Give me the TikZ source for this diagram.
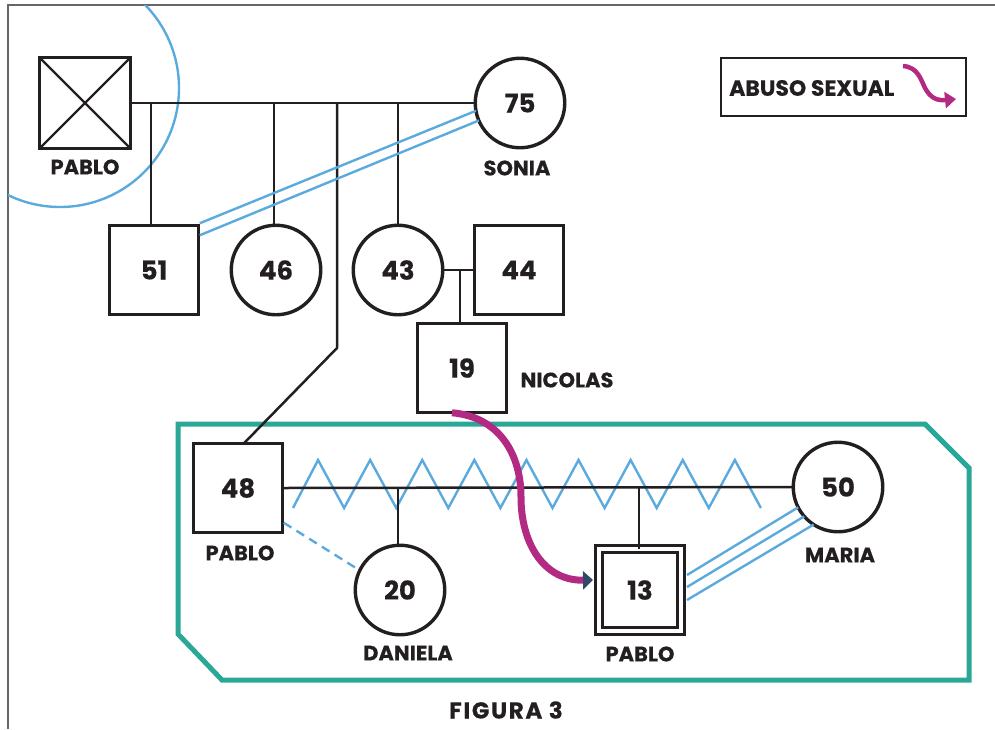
\documentclass[tikz,border=0pt]{standalone}
\usepackage{fontspec}
\setmainfont{Poppins}[BoldFeatures={FakeBold=0.4}]
\usetikzlibrary{arrows.meta,calc}
\definecolor{ink}{HTML}{231F20}
\definecolor{bluel}{HTML}{5BAADD}
\definecolor{teal2}{HTML}{2AA796}
\definecolor{magen}{HTML}{B32A83}
\definecolor{navy2}{HTML}{2F4A68}
\definecolor{framec}{HTML}{666666}
\begin{document}
\begin{tikzpicture}[x=1pt,y=-1pt,
  person/.style={draw=ink, line width=3.4pt, inner sep=0pt, outer sep=0pt, minimum size=89.5pt,
    font=\fontsize{26}{26}\selectfont\bfseries, text=ink},
  male/.style={person, rectangle},
  female/.style={person, circle},
  lbl/.style={font=\fontsize{21}{21}\selectfont\bfseries, text=ink, inner sep=0pt},
  rel/.style={draw=ink, line width=2.5pt},
  bl/.style={draw=bluel, line width=2.4pt},
]
\useasboundingbox (0,0) rectangle (995,729);
% frame
\draw[framec, line width=1.6pt] (8,729) -- (8,5) -- (995,5);
% teal household
\draw[teal2, line width=5pt, line join=miter] (178,424) -- (925,424) -- (969,468) -- (969,680) -- (222,680) -- (178,634) -- cycle;

% persons
\node[male, minimum size=91pt] (pablo1) at (85,103) {};
\draw[ink, line width=2.2pt] (pablo1.north west) -- (pablo1.south east) (pablo1.north east) -- (pablo1.south west);
\node[female] (sonia) at (520,103) {75};
\node[male] (n51) at (154,270) {51};
\node[female] (n46) at (276,270) {46};
\node[female] (n43) at (398,270) {43};
\node[male] (n44) at (519,270) {44};
\node[male] (n19) at (462,368) {19};
\node[male] (n48) at (238,488) {48};
\node[female] (n20) at (400,590) {20};
\node[female] (n50) at (838,487) {50};
\node[male, double=white, double distance=4.6pt, line width=2.7pt, minimum size=82pt] (n13) at (640,590) {13};

% labels
\node[lbl] (lp1) at (85,167) {PABLO};
\node[lbl] (ls) at (517,168) {SONIA};
\node[lbl] (ln) at (567,380) {NICOLAS};
\node[lbl] (lp48) at (240,553) {PABLO};
\node[lbl] (ld) at (408,653) {DANIELA};
\node[lbl] (lp13) at (640,654) {PABLO};
\node[lbl] (lm) at (840,555) {MARIA};
\node[lbl, font=\fontsize{23}{23}\selectfont\bfseries\addfontfeature{LetterSpace=7}] (fig) at (506,710) {FIGURA 3};

% emotional circle around deceased
\begin{scope}
  \clip (8,5) rectangle (995,729);
  \draw[bl] (60,88) circle (119pt);
\end{scope}

% top generation
\draw[rel] (pablo1.east) -- (sonia.west);
\coordinate (s51) at (151,103);
\coordinate (s46) at (274,103);
\coordinate (s48) at (337,103);
\coordinate (s43) at (398,103);
\coordinate (bend) at (337,348);
\draw[rel] (s51) -- (s51 |- n51.north);
\draw[rel] (s46) -- (s46 |- n46.north);
\draw[rel] (s43) -- (s43 |- n43.north);
\draw[rel, line join=round] (s48) -- (bend) -- ($(n48.north)+(6,0)$);

% 43 - 44 and child 19
\draw[rel] (n43.east) -- (n44.west);
\coordinate (m4344) at (460,270);
\draw[rel] (m4344) -- (m4344 |- n19.north);

% close relation 51 - Sonia (double line)
\draw[bl] ($(n51.north east)+(1,-2)$) -- (sonia.190);
\draw[bl] ($(n51.north east)+(1,10)$) -- (sonia.203);

% conflict zigzag 48 - 50
\draw[bl, line join=miter] (293,508) \foreach \i in {0,...,8} { -- ({318.05+52.1*\i},460) -- ({344.1+52.1*\i},508) };
\draw[rel] (n48.east) -- (n50.west);
\coordinate (m20) at (398,488);
\coordinate (m13) at (639,488);
\draw[rel] (m20) -- (m20 |- n20.north);
\draw[rel] (m13) -- (m13 |- n13.north);

% distant relation 48 - 20
\draw[bl, dash pattern=on 9pt off 6pt] ($(n48.south east)+(1,-10)$) -- (n20.154);

% fused relation 13 - 50 (triple line)
\draw[bl] ($(n13.east)+(6,-15)$) -- (n50.207);
\draw[bl] ($(n13.east)+(6,-3)$) -- (n50.221);
\draw[bl] ($(n13.east)+(6,10)$) -- (n50.237);

% abuse arrow 19 -> 13
\coordinate (ab0) at ($(n19.south)+(-10,0)$);
\coordinate (abm) at (521,497);
\coordinate (ab1) at ($(n13.west)+(-6,-10)$);
\draw[magen, line width=7pt, -{Triangle[length=10pt,width=18pt,color=navy2,fill=navy2]}]
  (ab0) .. controls (500,417) and (521,455) .. (abm) .. controls (521,545) and (545,581) .. (ab1);

% legend
\node[draw=ink, line width=2.6pt, outer sep=0pt, minimum width=245pt, minimum height=58pt] (legend) at (843.5,87) {};
\node[lbl, font=\fontsize{22}{22}\selectfont\bfseries, anchor=west] (legtxt) at (729,88) {ABUSO SEXUAL};
\coordinate (la0) at (903,66);
\coordinate (la1) at (956,99);
\draw[magen, line width=4.5pt, -{Triangle[length=11pt,width=16pt]}]
  (la0) .. controls (918,67) and (921,80) .. (925,88) .. controls (930,97) and (936,101) .. (la1);
\end{tikzpicture}
\end{document}
